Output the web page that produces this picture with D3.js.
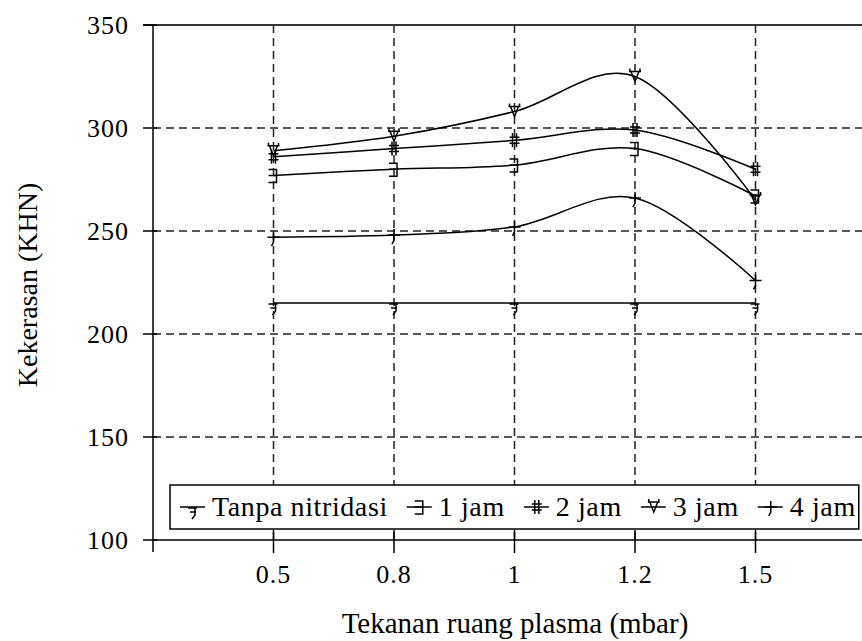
<!DOCTYPE html>
<html>
<head>
<meta charset="utf-8">
<script src="https://cdn.jsdelivr.net/npm/d3@7"></script>
<style>
  body { margin: 0; background: #fff; }
  svg { display: block; }
  text { font-family: "Liberation Serif", "Times New Roman", serif; fill: #000; }
</style>
</head>
<body>
<svg id="chart" width="862" height="641"></svg>
<script>
// Kekerasan vs tekanan ruang plasma
const categories = ['0.5', '0.8', '1', '1.2', '1.5'];
const tanpaNitridasi = [215, 215, 215, 215, 215];
const jam1 = [277, 280, 282, 290, 267];
const jam2 = [286, 290, 294, 299, 280];
const jam3 = [289, 296, 308, 325, 265];
const jam4 = [247, 248, 252, 266, 226];
const yTicks = [100, 150, 200, 250, 300, 350];

const seriesList = [
  { name: 'Tanpa nitridasi', values: tanpaNitridasi, marker: 'tanpa' },
  { name: '1 jam', values: jam1, marker: 'j1' },
  { name: '2 jam', values: jam2, marker: 'j2' },
  { name: '3 jam', values: jam3, marker: 'j3' },
  { name: '4 jam', values: jam4, marker: 'j4' }
];

// little glyph-like markers, centred on the point
const MARKER_PATHS = {
  tanpa: 'M-5,1H4M-3,5H3M2,1V8L-1,12',
  j1: 'M-5,-6H3V7H-5M-5,0H3',
  j2: 'M-2,-7V7M2,-7V7M-5,-3H5M-5,3H5',
  j3: 'M-6,-5H6M-4,-5L0,5L4,-5M-5,-8V-5M5,-8V-5',
  j4: 'M-6,0H6M0,-6V5L-2,9'
};

const svg = d3.select('#chart');
const plotLeft = 153, plotTop = 25, plotBottom = 540;

const x = d3.scaleLinear().domain([0, 6]).range([plotLeft, 876]);
const y = d3.scaleLinear().domain([100, 350]).range([plotBottom, plotTop]);

const DASH = '8,5';

// horizontal grid
svg.append('g')
  .selectAll('line')
  .data(yTicks.filter(v => v > 100 && v < 350))
  .join('line')
  .attr('x1', plotLeft).attr('x2', 862)
  .attr('y1', d => y(d)).attr('y2', d => y(d))
  .attr('stroke', '#222').attr('stroke-width', 1.5)
  .attr('stroke-dasharray', DASH);

// vertical grid
svg.append('g')
  .selectAll('line')
  .data(categories)
  .join('line')
  .attr('x1', (d, i) => x(i + 1)).attr('x2', (d, i) => x(i + 1))
  .attr('y1', plotTop).attr('y2', plotBottom)
  .attr('stroke', '#222').attr('stroke-width', 1.5)
  .attr('stroke-dasharray', DASH);

// top border
svg.append('line')
  .attr('x1', 143).attr('x2', 862)
  .attr('y1', plotTop).attr('y2', plotTop)
  .attr('stroke', '#333').attr('stroke-width', 2);

// y axis
const yAxis = svg.append('g');
yAxis.append('line')
  .attr('x1', plotLeft).attr('x2', plotLeft)
  .attr('y1', plotTop).attr('y2', 552)
  .attr('stroke', '#000').attr('stroke-width', 1.5);
yAxis.selectAll('line.tick')
  .data(yTicks)
  .join('line')
  .attr('class', 'tick')
  .attr('x1', 143).attr('x2', 157)
  .attr('y1', d => y(d)).attr('y2', d => y(d))
  .attr('stroke', '#000').attr('stroke-width', 1.5);
yAxis.selectAll('text')
  .data(yTicks)
  .join('text')
  .attr('x', 129)
  .attr('y', d => y(d) + 9)
  .attr('text-anchor', 'end')
  .style('font-size', '26px')
  .style('letter-spacing', '1px')
  .text(d => d);

// x axis
const xAxis = svg.append('g');
xAxis.append('line')
  .attr('x1', plotLeft).attr('x2', 862)
  .attr('y1', plotBottom).attr('y2', plotBottom)
  .attr('stroke', '#000').attr('stroke-width', 1.5);
xAxis.selectAll('line.tick')
  .data(categories)
  .join('line')
  .attr('class', 'tick')
  .attr('x1', (d, i) => x(i + 1)).attr('x2', (d, i) => x(i + 1))
  .attr('y1', plotBottom - 10).attr('y2', plotBottom + 13)
  .attr('stroke', '#000').attr('stroke-width', 1.5);
xAxis.selectAll('text')
  .data(categories)
  .join('text')
  .attr('x', (d, i) => x(i + 1))
  .attr('y', 583)
  .attr('text-anchor', 'middle')
  .style('font-size', '26px')
  .style('letter-spacing', '1px')
  .text(d => d);

// axis titles
svg.append('text')
  .attr('x', 515).attr('y', 633)
  .attr('text-anchor', 'middle')
  .style('font-size', '29px')
  .text('Tekanan ruang plasma (mbar)');

svg.append('text')
  .attr('transform', 'translate(37,285) rotate(-90)')
  .attr('text-anchor', 'middle')
  .style('font-size', '28px')
  .text('Kekerasan (KHN)');

// series lines
const line = d3.line()
  .x((d, i) => x(i + 1))
  .y(d => y(d))
  .curve(d3.curveCardinal.tension(0));

const seriesG = svg.append('g')
  .selectAll('g')
  .data(seriesList)
  .join('g');

seriesG.append('path')
  .attr('d', s => line(s.values))
  .attr('fill', 'none')
  .attr('stroke', '#000')
  .attr('stroke-width', 1.5);

seriesG.each(function(s) {
  d3.select(this).selectAll('path.marker')
    .data(s.values)
    .join('path')
    .attr('class', 'marker')
    .attr('transform', (d, i) => `translate(${x(i + 1)},${y(d)})`)
    .attr('d', MARKER_PATHS[s.marker])
    .attr('fill', 'none')
    .attr('stroke', '#000')
    .attr('stroke-width', 1.5);
});

// legend
const legend = svg.append('g');
const legendBox = legend.append('rect')
  .attr('fill', '#fff')
  .attr('stroke', '#000')
  .attr('stroke-width', 1.5);

let cursor = 180;
let lastEnd = 0;
seriesList.forEach(s => {
  const item = legend.append('g');
  item.append('line')
    .attr('x1', cursor).attr('x2', cursor + 25)
    .attr('y1', 507).attr('y2', 507)
    .attr('stroke', '#000').attr('stroke-width', 1.5);
  item.append('path')
    .attr('transform', `translate(${cursor + 13},507)`)
    .attr('d', MARKER_PATHS[s.marker])
    .attr('fill', 'none')
    .attr('stroke', '#000')
    .attr('stroke-width', 1.5);
  const label = item.append('text')
    .attr('x', cursor + 32)
    .attr('y', 516)
    .style('font-size', '28px')
    .style('letter-spacing', '0.6px')
    .text(s.name);
  lastEnd = cursor + 32 + label.node().getComputedTextLength();
  cursor = lastEnd + 19;
});

legendBox
  .attr('x', 170).attr('y', 485)
  .attr('width', lastEnd + 3 - 170)
  .attr('height', 44);
</script>
</body>
</html>
